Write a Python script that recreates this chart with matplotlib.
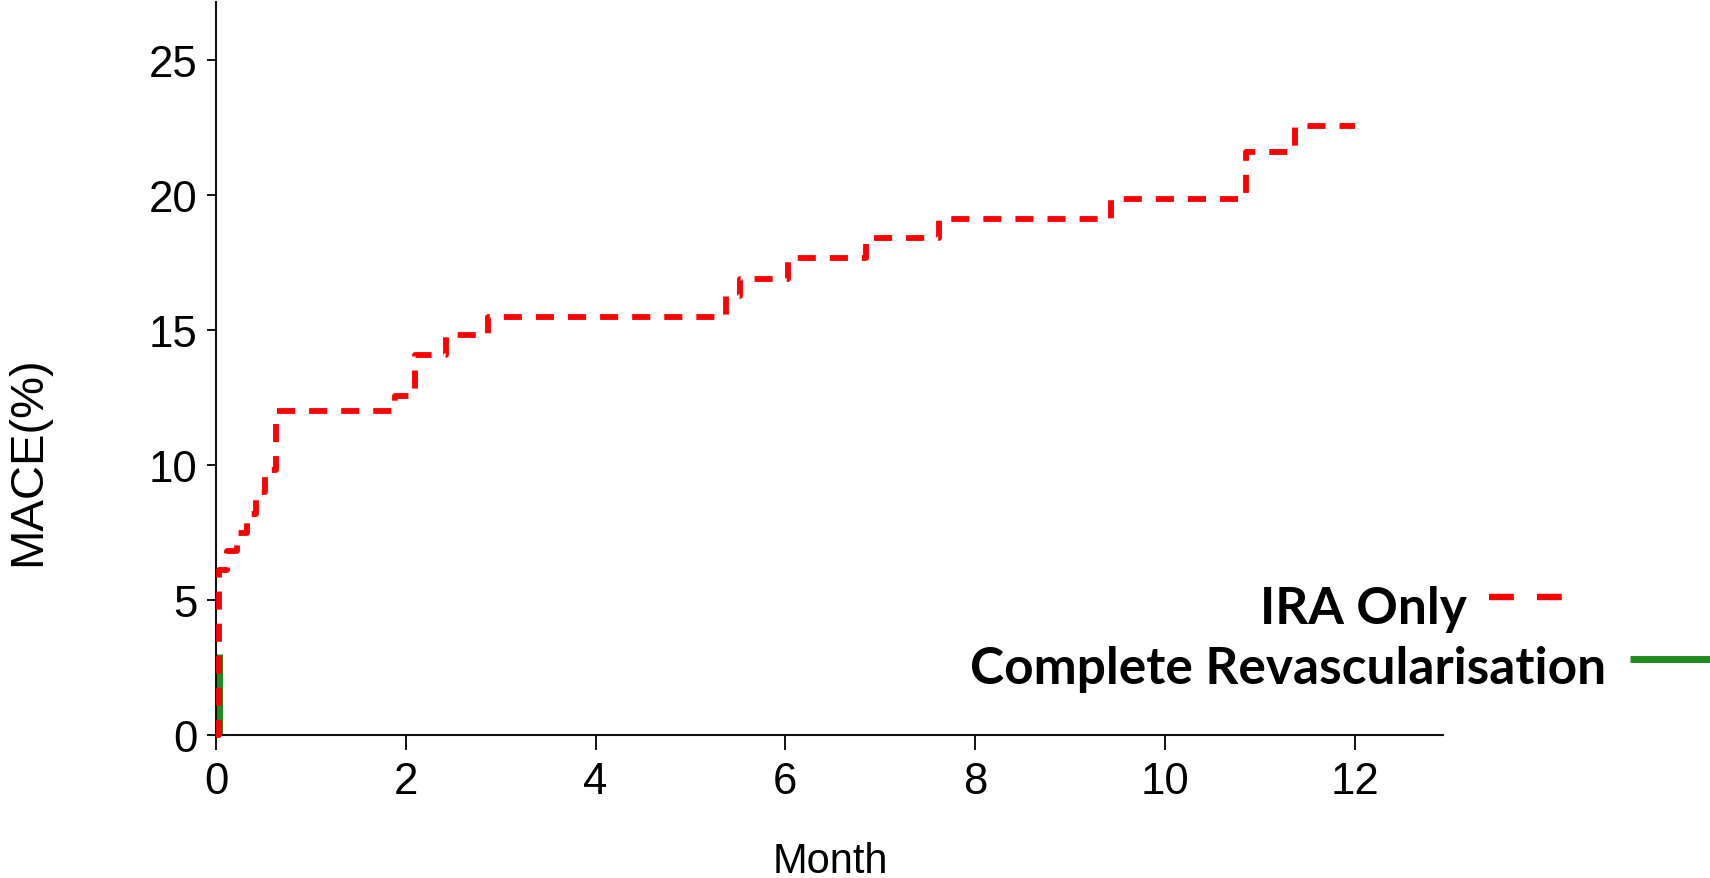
import matplotlib
matplotlib.use("Agg")
import matplotlib.pyplot as plt
from matplotlib.lines import Line2D

# Cumulative MACE (%) by month, step curves
ira_months = [0.0, 0.03, 0.12, 0.22, 0.33, 0.42, 0.52, 0.63, 1.89, 2.10, 2.42,
              2.87, 5.37, 5.52, 6.03, 6.85, 7.62, 9.43, 10.85, 11.37, 12.0]
ira_mace = [0.0, 6.1, 6.8, 7.5, 8.2, 9.0, 9.8, 12.0, 12.55, 14.07, 14.8,
            15.5, 16.25, 16.9, 17.65, 18.4, 19.1, 19.85, 21.6, 22.55, 22.55]

cr_months = [0.03, 0.03]
cr_mace = [0.0, 3.0]

x_ticks = [0, 2, 4, 6, 8, 10, 12]
y_ticks = [0, 5, 10, 15, 20, 25]

series_labels = ["IRA Only", "Complete Revascularisation"]
x_label = "Month"
y_label = "MACE(%)"

RED = "#ff0000"
GREEN = "#1e8c1e"

W, H = 1710, 879
fig = plt.figure(figsize=(W / 100, H / 100), dpi=100)
ax = fig.add_axes([216 / W, 1 - 736 / H, (1443 - 216) / W, (736 - 3) / H])

ax.plot(cr_months, cr_mace, color=GREEN, lw=5, solid_capstyle="butt",
        clip_on=False, zorder=2)
ax.plot(ira_months, ira_mace, drawstyle="steps-post", color=RED, lw=4.2,
        dashes=(3.1, 2.4), dash_capstyle="butt", clip_on=False, zorder=3)

ax.set_xlim(0, 12.93)
ax.set_ylim(0, 27.15)
ax.set_xticks(x_ticks)
ax.set_yticks(y_ticks)

for side in ("top", "right"):
    ax.spines[side].set_visible(False)
for side in ("left", "bottom"):
    ax.spines[side].set_linewidth(1.5)
    ax.spines[side].set_color("#111111")

ax.tick_params(axis="x", length=10.5, width=1.4, pad=8, colors="#111111")
ax.tick_params(axis="y", length=6.5, width=1.4, pad=7, colors="#111111")
for lbl in ax.get_xticklabels() + ax.get_yticklabels():
    lbl.set_fontfamily("Liberation Sans")
    lbl.set_fontsize(31.5)
    lbl.set_color("black")

fig.text(830 / W, 1 - 862 / H, x_label, ha="center", va="center",
         family="Liberation Sans", size=30, color="black")
fig.text(28 / W, 1 - 461 / H, y_label, ha="center", va="center",
         rotation=90, family="Liberation Sans", size=34, color="black")

# Legend: right-aligned labels followed by line samples
leg_font = dict(family="Lato", weight="bold", size=37, color="black")
fig.text(1467 / W, 1 - 624 / H, series_labels[0], ha="right", va="baseline", **leg_font)
fig.text(1606 / W, 1 - 684 / H, series_labels[1], ha="right", va="baseline", **leg_font)

fig.add_artist(Line2D([1489 / W, 1565 / W], [1 - 598 / H, 1 - 598 / H],
                      transform=fig.transFigure, color=RED, lw=4.6,
                      dashes=(3.9, 3.6), dash_capstyle="butt"))
fig.add_artist(Line2D([1630 / W, 1712 / W], [1 - 660 / H, 1 - 660 / H],
                      transform=fig.transFigure, color=GREEN, lw=5,
                      solid_capstyle="butt"))

fig.savefig("out.png", dpi=100, facecolor="white")
